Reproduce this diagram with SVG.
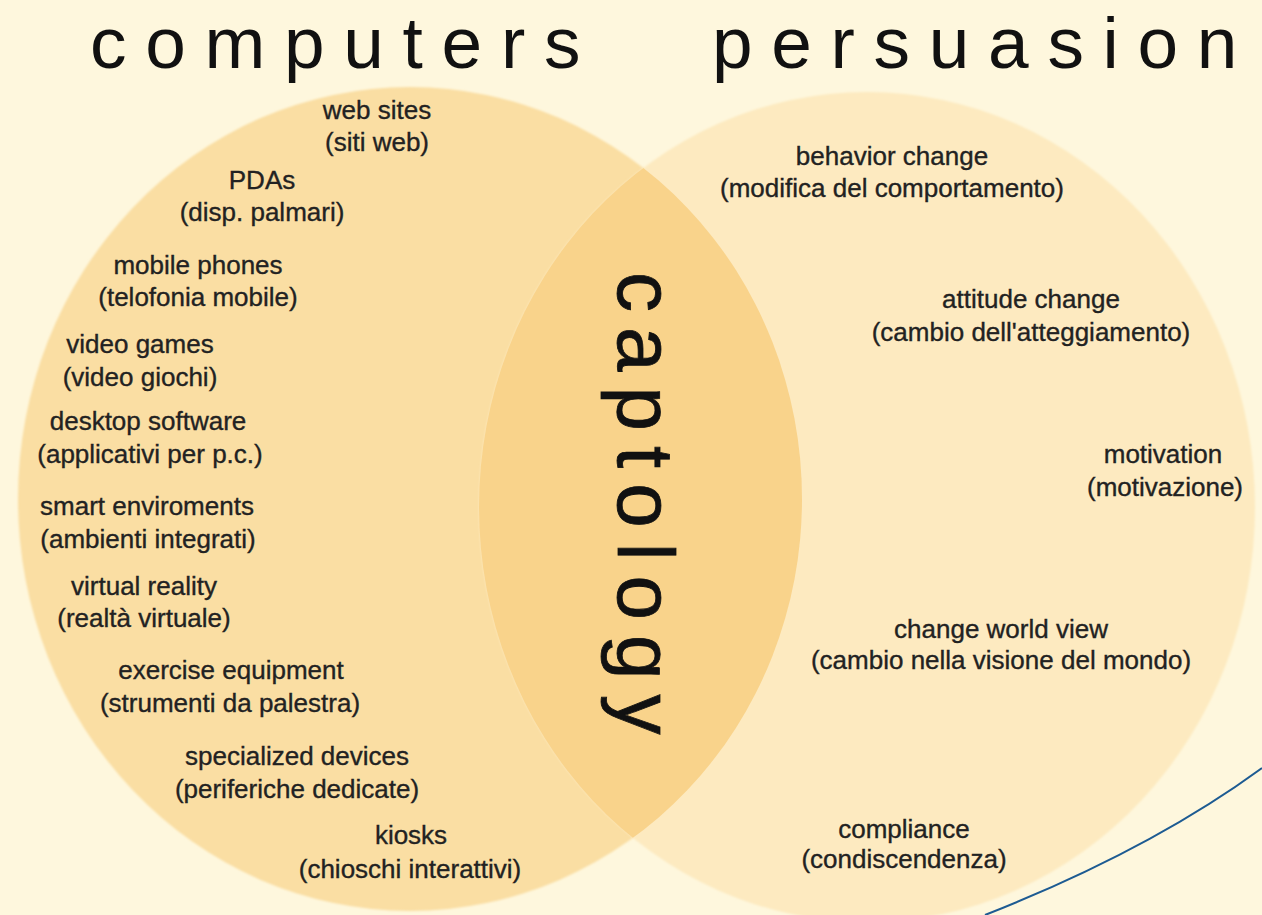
<svg xmlns="http://www.w3.org/2000/svg" width="1262" height="915" viewBox="0 0 1262 915">
<style>
.title{font-family:"Liberation Sans",Arial,sans-serif;font-size:73px;fill:#111;letter-spacing:18.7px}
.lbl{font-family:"Liberation Sans",Arial,sans-serif;font-size:26px;fill:#222;stroke:#222;stroke-width:0.35px;text-anchor:middle}
.capt{font-family:"Liberation Sans",Arial,sans-serif;font-size:80px;fill:#111;stroke:#111;stroke-width:0.8px;letter-spacing:15px}
</style>
<defs>
<filter id="soft" x="-5%" y="-5%" width="110%" height="110%"><feGaussianBlur stdDeviation="1.2"/></filter>
<clipPath id="leftClip"><ellipse cx="410" cy="499" rx="392" ry="412"/></clipPath>
</defs>
<rect width="1262" height="915" fill="#fef7dd"/>
<g id="circle-computers"><ellipse cx="410" cy="499" rx="392" ry="412" fill="#fadea3" filter="url(#soft)"/></g>
<g id="circle-persuasion"><ellipse cx="867" cy="507" rx="388" ry="415" fill="#fdeac0" filter="url(#soft)"/></g>
<g id="lens-captology"><ellipse cx="867" cy="507" rx="388" ry="415" fill="#f9d38b" clip-path="url(#leftClip)"/></g>
<g id="title-computers"><text class="title" x="90" y="68">computers</text></g>
<g id="title-persuasion"><text class="title" x="712" y="68">persuasion</text></g>
<g id="captology"><text class="capt" x="618" y="272" transform="rotate(90 618 272)">captology</text></g>
<g id="n-websites"><text class="lbl" x="377" y="119">web sites</text><text class="lbl" x="377" y="151">(siti web)</text></g>
<g id="n-pdas"><text class="lbl" x="262" y="189">PDAs</text><text class="lbl" x="262" y="221">(disp. palmari)</text></g>
<g id="n-mobile"><text class="lbl" x="198" y="274">mobile phones</text><text class="lbl" x="198" y="306">(telofonia mobile)</text></g>
<g id="n-videogames"><text class="lbl" x="140" y="353">video games</text><text class="lbl" x="140" y="386">(video giochi)</text></g>
<g id="n-desktop"><text class="lbl" x="148" y="430">desktop software</text><text class="lbl" x="150" y="463">(applicativi per p.c.)</text></g>
<g id="n-smart"><text class="lbl" x="147" y="515">smart enviroments</text><text class="lbl" x="148" y="548">(ambienti integrati)</text></g>
<g id="n-vr"><text class="lbl" x="144" y="595">virtual reality</text><text class="lbl" x="144" y="627">(realtà virtuale)</text></g>
<g id="n-exercise"><text class="lbl" x="231" y="679">exercise equipment</text><text class="lbl" x="230" y="712">(strumenti da palestra)</text></g>
<g id="n-devices"><text class="lbl" x="297" y="765">specialized devices</text><text class="lbl" x="297" y="798">(periferiche dedicate)</text></g>
<g id="n-kiosks"><text class="lbl" x="411" y="844">kiosks</text><text class="lbl" x="410" y="878">(chioschi interattivi)</text></g>
<g id="n-behavior"><text class="lbl" x="892" y="165">behavior change</text><text class="lbl" x="892" y="197">(modifica del comportamento)</text></g>
<g id="n-attitude"><text class="lbl" x="1031" y="308">attitude change</text><text class="lbl" x="1031" y="341">(cambio dell'atteggiamento)</text></g>
<g id="n-motivation"><text class="lbl" x="1163" y="463">motivation</text><text class="lbl" x="1165" y="496">(motivazione)</text></g>
<g id="n-worldview"><text class="lbl" x="1001" y="638">change world view</text><text class="lbl" x="1001" y="669">(cambio nella visione del mondo)</text></g>
<g id="n-compliance"><text class="lbl" x="904" y="838">compliance</text><text class="lbl" x="904" y="868">(condiscendenza)</text></g>
<g id="connectors"><path d="M985 915 Q1150 850 1262 768" fill="none" stroke="#1d5b92" stroke-width="2"/></g>
</svg>
